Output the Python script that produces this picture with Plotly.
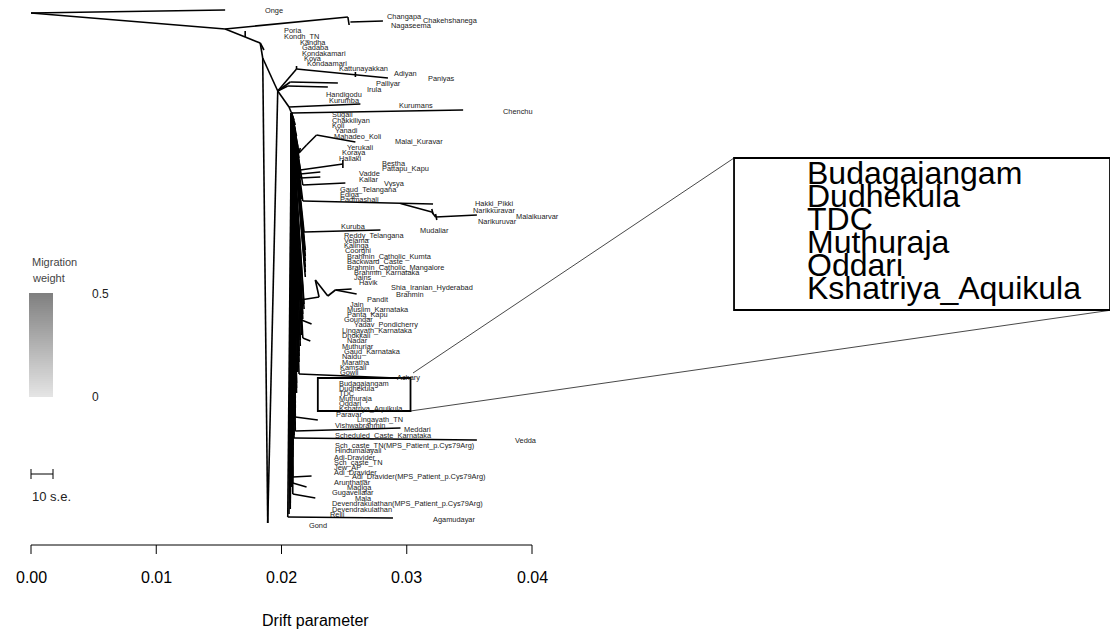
import plotly.graph_objects as go

# ---------------- data ----------------
# leaf labels: name, drift position of label, vertical position (tree row)
leaf_names = ["Onge","Changapa","Chakehshanega","Nagaseema","Poria","Kondh_TN","Kandha","Gadaba",
 "Kondakamari","Koya","Kondaamari","Kattunayakkan","Adiyan","Paniyas","Palliyar","Irula","Handigodu",
 "Kurumba","Kurumans","Chenchu","Sugali","Chakkiliyan","Koli","Yanadi","Mahadeo_Koli","Malai_Kuravar",
 "Yerukali","Koraya","Hallaki","Bestha","Pattapu_Kapu","Vadde","Kallar","Vysya","Gaud_Telangana","Ediga",
 "Padmashali","Hakki_Pikki","Narikkuravar","Malaikuarvar","Narikuruvar","Kuruba","Mudaliar",
 "Reddy_Telangana","Velama","Kalinga","Coorghi","Brahmin_Catholic_Kumta","Backward_Caste",
 "Brahmin_Catholic_Mangalore","Brahmin_Karnataka","Jains","Havik","Shia_Iranian_Hyderabad","Brahmin",
 "Pandit","Jain","Muslim_Karnataka","Panta_Kapu","Goundar","Yadav_Pondicherry","Lingayath_Karnataka",
 "Dhokkali","Nadar","Muthuriar","Gaud_Karnataka","Naidu","Maratha","Kamsali","Gowli","Achary",
 "Budagajangam","Dudhekula","TDC","Muthuraja","Oddari","Kshatriya_Aquikula","Paravar","Lingayath_TN",
 "Vishwabrahmin","Meddari","Scheduled_Caste_Karnataka","Vedda","Sch_caste_TN(MPS_Patient_p.Cys79Arg)",
 "Hindumalayali","Adi-Dravider","Sch_caste_TN","Jew_AP","Adi_Dravider",
 "Adi_Dravider(MPS_Patient_p.Cys79Arg)","Arunthatiar","Madiga","Gugavellalar","Mala",
 "Devendrakulathan(MPS_Patient_p.Cys79Arg)","Devendrakulathan","Relli","Agamudayar","Gond"]
leaf_drift = [0.0185,0.0283,0.0311,0.0286,0.0200,0.0200,0.0213,0.0215,
 0.0215,0.0216,0.0219,0.0244,0.0288,0.0315,0.0274,0.0267,0.0234,
 0.0236,0.0292,0.0375,0.0239,0.0239,0.0239,0.0241,0.0240,0.0289,
 0.0251,0.0247,0.0244,0.0279,0.0279,0.0260,0.0260,0.0280,0.0245,0.0245,
 0.0245,0.0353,0.0351,0.0386,0.0355,0.0246,0.0309,
 0.0248,0.0248,0.0248,0.0249,0.0251,0.0251,
 0.0251,0.0256,0.0256,0.0260,0.0286,0.0290,
 0.0267,0.0253,0.0251,0.0251,0.0248,0.0256,0.0247,
 0.0247,0.0251,0.0247,0.0248,0.0247,0.0247,0.0245,0.0245,0.0291,
 0.0244,0.0244,0.0244,0.0244,0.0244,0.0244,0.0242,0.0259,
 0.0241,0.0296,0.0241,0.0385,0.0241,
 0.0241,0.0240,0.0240,0.0240,0.0240,
 0.0255,0.0240,0.0251,0.0239,0.0257,
 0.0239,0.0239,0.0237,0.0319,0.0220]
leaf_y = [10,16,20,25,30,36,42,47,
 53,58,63,68,73,78,83,89,94,
 100,105,111,114,120,125,130,136,141,
 147,152,158,163,168,173,179,183,189,194,
 199,203,210,216,221,226,230,
 235,240,245,250,256,261,
 267,272,277,282,287,294,
 299,304,309,314,319,324,330,
 335,340,346,351,356,362,367,372,377,
 383,388,393,398,403,408,414,419,
 425,429,435,440,445,
 450,457,462,467,472,
 476,482,487,492,498,
 503,509,514,519,525]

# leaves whose short branches form the dense central band, with their tip drift
band_leaves = ["Sugali","Chakkiliyan","Koli","Yanadi","Mahadeo_Koli","Yerukali","Koraya","Hallaki",
 "Gaud_Telangana","Ediga","Padmashali","Reddy_Telangana","Velama","Kalinga","Coorghi",
 "Brahmin_Catholic_Kumta","Backward_Caste","Brahmin_Catholic_Mangalore","Brahmin_Karnataka","Jains",
 "Jain","Muslim_Karnataka","Panta_Kapu","Goundar","Lingayath_Karnataka","Dhokkali","Nadar","Muthuriar",
 "Gaud_Karnataka","Naidu","Maratha","Kamsali","Gowli","Budagajangam","Dudhekula","TDC","Muthuraja",
 "Oddari","Kshatriya_Aquikula","Paravar","Vishwabrahmin","Scheduled_Caste_Karnataka",
 "Sch_caste_TN(MPS_Patient_p.Cys79Arg)","Hindumalayali","Adi-Dravider","Sch_caste_TN","Jew_AP",
 "Adi_Dravider","Arunthatiar","Madiga","Gugavellalar","Devendrakulathan(MPS_Patient_p.Cys79Arg)",
 "Devendrakulathan","Relli"]
band_tip = [0.0209,0.0210,0.0211,0.0211,0.0212,0.0213,0.0213,0.0214,
 0.0215,0.0215,0.0216,0.0217,0.0218,0.0218,0.0219,
 0.0219,0.0219,0.0219,0.0219,0.0219,
 0.0218,0.0218,0.0217,0.0217,0.0216,0.0216,0.0215,0.0215,
 0.0214,0.0214,0.0214,0.0213,0.0213,0.0212,0.0212,0.0212,0.0211,
 0.0211,0.0211,0.0210,0.0210,0.0210,
 0.0209,0.0209,0.0209,0.0208,0.0208,
 0.0208,0.0208,0.0208,0.0207,0.0207,
 0.0207,0.0206]

# internal nodes and branch ends (drift, row)
node_ids = ["root","onge","nA","ch1","ch1t","ch2","chT","nB","nBt","nC","nCt","nD","gond","nN1",
 "nK","nKt","katA","katB","katT","nP","palT","nH","hanT","nKu","kurT","nS","chenT",
 "yk","yk2","mk0","mk1","mkT","be0","beT","beTa","beTb","va0","vaT","ka0","kaT","vy0","vyT",
 "hk0","hkT","hk1","hk2","hk2a","hk2b","hk3","hk3a","hk3b","hkT2","kb0","kbT",
 "hv","hv0","hv1","hv2","hv3","hvTa","hvTb","sh0","shT","sh20","sh2T","ac0","acT",
 "lt0","ltT","md0","mdT","ve0","veT","ad0","adT","mg0","mgT","ml0","mlT","ag0","agT"]
node_drift = [0.0000,0.0155,0.0155,0.0253,0.0254,0.0255,0.0281,0.0171,0.0171,0.0183,0.0186,0.0185,0.0189,0.0197,
 0.0212,0.0212,0.0259,0.0259,0.0285,0.0207,0.0245,0.0205,0.0237,0.0206,0.0263,0.0208,0.0345,
 0.0214,0.0215,0.0220,0.0228,0.0259,0.0215,0.0249,0.0249,0.0249,0.0215,0.0231,0.0215,0.0231,0.0217,0.0251,
 0.0217,0.0321,0.0295,0.0320,0.0320,0.0321,0.0323,0.0323,0.0324,0.0356,0.0218,0.0279,
 0.0215,0.0230,0.0227,0.0237,0.0243,0.0256,0.0260,0.0216,0.0224,0.0217,0.0223,0.0214,0.0291,
 0.0211,0.0229,0.0211,0.0295,0.0210,0.0356,0.0209,0.0224,0.0209,0.0220,0.0209,0.0227,0.0205,0.0289]
node_y = [13,10,29,17,25,22,21,37,31,43,50,58,523,91,
 69,66,72,77,78,82,83,86,87,107,104,113,110,
 153,148,145,135,142,170,164,160,168,174,172,178,177,185,183,
 201,204,203.5,212,209,214,217,214,220,215,232,230,
 300,297,280,296,290,289,294,320,324,338,341,374,378,
 417,420,431,428,438,440,477,476,483,487,494,498,517,518]

edges = [("root","onge"),("root","nA"),("nA","ch1"),("ch1","ch1t"),("ch2","chT"),
 ("nA","nB"),("nB","nBt"),("nB","nC"),("nC","nCt"),("nC","nD"),("nD","gond"),("nD","nN1"),
 ("nN1","gond"),("nN1","nK"),("nK","nKt"),("nK","katT"),("katA","katB"),("nN1","nP"),("nP","palT"),
 ("nN1","nH"),("nH","hanT"),("nN1","nKu"),("nKu","kurT"),("nKu","nS"),("nS","chenT"),
 ("nS","yk"),("yk","yk2"),("yk","mk0"),("mk0","mk1"),("mk1","mkT"),
 ("nS","be0"),("be0","beT"),("beTa","beTb"),("nS","va0"),("va0","vaT"),("nS","ka0"),("ka0","kaT"),
 ("nS","vy0"),("vy0","vyT"),("nS","hk0"),("hk0","hkT"),("hk1","hk2"),("hk2a","hk2b"),("hk2","hk3"),
 ("hk3a","hk3b"),("hk3","hkT2"),("nS","kb0"),("kb0","kbT"),
 ("nS","hv"),("hv","hv0"),("hv0","hv1"),("hv1","hv2"),("hv2","hv3"),("hv3","hvTa"),("hv3","hvTb"),
 ("nS","sh0"),("sh0","shT"),("nS","sh20"),("sh20","sh2T"),("nS","ac0"),("ac0","acT"),
 ("nS","lt0"),("lt0","ltT"),("nS","md0"),("md0","mdT"),("nS","ve0"),("ve0","veT"),
 ("nS","ad0"),("ad0","adT"),("nS","mg0"),("mg0","mgT"),("nS","ml0"),("ml0","mlT"),
 ("nS","ag0"),("ag0","agT")]

# zoomed inset
inset_names = ["Budagajangam","Dudhekula","TDC","Muthuraja","Oddari","Kshatriya_Aquikula"]
small_box = dict(x0=0.0229, x1=0.0303, y0=378, y1=411)
big_box = dict(x0=0.05613, x1=0.08615, y0=158, y1=310)

tick_vals = [0.00, 0.01, 0.02, 0.03, 0.04]
tick_text = ["0.00", "0.01", "0.02", "0.03", "0.04"]
axis_title = "Drift parameter"
legend_title = ["Migration", "weight"]
legend_ticks = ["0.5", "0"]
scale_label = "10 s.e."

# ---------------- figure ----------------
W, H = 1118, 632
OFF = 8                      # page body margin offset
X0PX, PXPER = 31, 12525.0    # page pixel of drift 0, pixels per unit drift
x_range = [(OFF - X0PX) / PXPER, (OFF + W - X0PX) / PXPER]
y_range = [H + OFF, OFF]
FONT = "Liberation Sans, Arial, sans-serif"

nd = {n: (x, y) for n, x, y in zip(node_ids, node_drift, node_y)}
ly = dict(zip(leaf_names, leaf_y))

xs, ys = [], []
for a, b in edges:
    xs += [nd[a][0], nd[b][0], None]
    ys += [nd[a][1], nd[b][1], None]
for name, tip in zip(band_leaves, band_tip):
    xs += [nd["nS"][0], tip, None]
    ys += [nd["nS"][1], ly[name], None]

fig = go.Figure()
fig.add_trace(go.Scatter(x=xs, y=ys, mode="lines", line=dict(color="black", width=1.6),
                         hoverinfo="skip", showlegend=False))

# connector lines to inset
fig.add_trace(go.Scatter(
    x=[small_box["x1"] + 0.0002, big_box["x0"], None, small_box["x1"], x_range[1]],
    y=[small_box["y0"] - 5, big_box["y0"], None, small_box["y1"], big_box["y1"] - 2],
    mode="lines", line=dict(color="#333", width=0.9), hoverinfo="skip", showlegend=False))

annotations = []
for n, x, y in zip(leaf_names, leaf_drift, leaf_y):
    annotations.append(dict(x=x, y=y, xref="x", yref="y", text=n, showarrow=False,
                            xanchor="left", yanchor="middle",
                            font=dict(family=FONT, size=7.4, color="#1a1a1a")))

sx = (big_box["x1"] - big_box["x0"]) / (small_box["x1"] - small_box["x0"])
sy = (big_box["y1"] - big_box["y0"]) / (small_box["y1"] - small_box["y0"])
ld = dict(zip(leaf_names, leaf_drift))
for n in inset_names:
    annotations.append(dict(x=big_box["x0"] + (ld[n] - small_box["x0"]) * sx - 0.0004,
                            y=big_box["y0"] + (ly[n] - small_box["y0"]) * sy,
                            xref="x", yref="y", text=n, showarrow=False, yshift=8,
                            xanchor="left", yanchor="middle",
                            font=dict(family=FONT, size=32, color="black")))

shapes = []
for b in (small_box, big_box):
    shapes.append(dict(type="rect", xref="x", yref="y", x0=b["x0"], x1=b["x1"], y0=b["y0"], y1=b["y1"],
                       line=dict(color="black", width=1.8)))

# x axis drawn inside plot at row 545
AX_Y = 545
shapes.append(dict(type="line", xref="x", yref="y", x0=tick_vals[0], x1=tick_vals[-1], y0=AX_Y, y1=AX_Y,
                   line=dict(color="black", width=1)))
for v, t in zip(tick_vals, tick_text):
    shapes.append(dict(type="line", xref="x", yref="y", x0=v, x1=v, y0=AX_Y, y1=AX_Y + 9,
                       line=dict(color="black", width=1)))
    annotations.append(dict(x=v, y=577, xref="x", yref="y", text=t, showarrow=False,
                            xanchor="center", yanchor="middle",
                            font=dict(family=FONT, size=16, color="black")))
annotations.append(dict(x=(315 - X0PX) / PXPER, y=620, xref="x", yref="y", text=axis_title,
                        showarrow=False, xanchor="center", yanchor="middle",
                        font=dict(family=FONT, size=16, color="black")))

# legend (paper coords from page pixels)
def px(x): return (x - OFF) / W
def py(y): return 1 - (y - OFF) / H

annotations.append(dict(x=px(30), y=py(262), xref="paper", yref="paper", text=legend_title[0],
                        showarrow=False, xanchor="left", yanchor="middle",
                        font=dict(family=FONT, size=11, color="#444")))
annotations.append(dict(x=px(30), y=py(278), xref="paper", yref="paper", text=legend_title[1],
                        showarrow=False, xanchor="left", yanchor="middle",
                        font=dict(family=FONT, size=11, color="#444")))
annotations.append(dict(x=px(90), y=py(294), xref="paper", yref="paper", text=legend_ticks[0],
                        showarrow=False, xanchor="left", yanchor="middle",
                        font=dict(family=FONT, size=12, color="#222")))
annotations.append(dict(x=px(90), y=py(397), xref="paper", yref="paper", text=legend_ticks[1],
                        showarrow=False, xanchor="left", yanchor="middle",
                        font=dict(family=FONT, size=12, color="#222")))
N = 52
gy0, gy1 = 293, 397
for i in range(N):
    f = i / (N - 1)
    g = int(round(128 + f * (228 - 128)))
    top = gy0 + (gy1 - gy0) * i / N
    bot = min(gy1, gy0 + (gy1 - gy0) * (i + 1) / N + 1.5)
    shapes.append(dict(type="rect", xref="paper", yref="paper", x0=px(29), x1=px(53),
                       y0=py(bot), y1=py(top), layer="below",
                       fillcolor=f"rgb({g},{g},{g})", line=dict(width=0)))
# scale bar
for seg in ((31, 474, 53, 474), (31, 469, 31, 479), (53, 469, 53, 479)):
    shapes.append(dict(type="line", xref="paper", yref="paper", x0=px(seg[0]), y0=py(seg[1]),
                       x1=px(seg[2]), y1=py(seg[3]), line=dict(color="black", width=1)))
annotations.append(dict(x=px(30), y=py(496), xref="paper", yref="paper", text=scale_label,
                        showarrow=False, xanchor="left", yanchor="middle",
                        font=dict(family=FONT, size=13, color="#222")))

fig.update_layout(
    width=W, height=H, margin=dict(l=0, r=0, t=0, b=0),
    paper_bgcolor="white", plot_bgcolor="white",
    xaxis=dict(range=x_range, visible=False, fixedrange=True),
    yaxis=dict(range=y_range, visible=False, fixedrange=True),
    shapes=shapes, annotations=annotations, showlegend=False,
)
fig.write_html("out.html")
